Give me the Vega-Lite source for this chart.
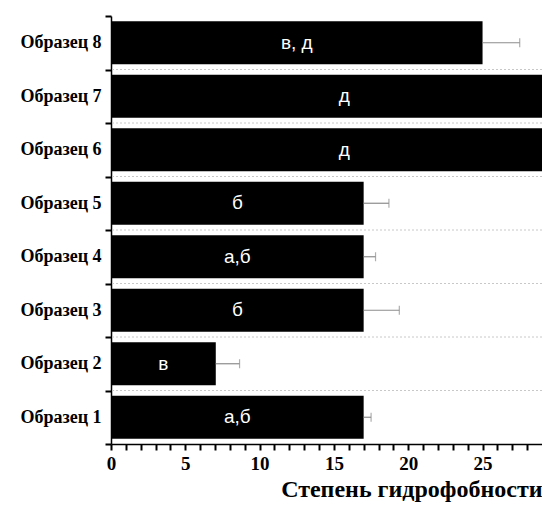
{
  "$schema": "https://vega.github.io/schema/vega-lite/v6.json",
  "width": 431,
  "height": 428,
  "autosize": {"type": "none"},
  "padding": {"left": 111, "top": 16, "right": 0, "bottom": 63},
  "background": "white",
  "config": {"view": {"stroke": null}, "axis": {"ticks": true}},
  "data": {"values": [
    {"s": "Образец 1", "v": 17.0, "hi": 17.5, "lab": "а,б"},
    {"s": "Образец 2", "v": 7.05, "hi": 8.65, "lab": "в"},
    {"s": "Образец 3", "v": 17.0, "hi": 19.4, "lab": "б"},
    {"s": "Образец 4", "v": 17.0, "hi": 17.8, "lab": "а,б"},
    {"s": "Образец 5", "v": 17.0, "hi": 18.7, "lab": "б"},
    {"s": "Образец 6", "v": 31.4, "hi": null, "lab": "д"},
    {"s": "Образец 7", "v": 31.4, "hi": null, "lab": "д"},
    {"s": "Образец 8", "v": 25.0, "hi": 27.5, "lab": "в, д"}
  ]},
  "resolve": {"scale": {"x": "independent"}, "axis": {"x": "independent"}},
  "layer": [
    {
      "transform": [{"filter": "datum.s != 'Образец 8'"}],
      "mark": {"type": "rule", "color": "#c8c8c8", "strokeDash": [2, 2], "strokeWidth": 1},
      "encoding": {
        "y": {"field": "s", "type": "nominal", "sort": "descending", "bandPosition": 0,
              "scale": {"paddingInner": 0, "paddingOuter": 0},
              "axis": {"title": null, "ticks": true, "tickBand": "extent", "tickSize": 6, "tickColor": "black",
                       "domainColor": "black", "domainWidth": 1.5, "tickWidth": 2,
                       "labelFont": "Liberation Serif", "labelFontWeight": "bold", "labelFontSize": 18,
                       "labelColor": "black", "labelPadding": 4, "grid": false}}
      }
    },
    {
      "mark": {"type": "bar", "color": "black", "clip": true, "height": {"band": 0.8}},
      "encoding": {
        "y": {"field": "s", "type": "nominal", "sort": "descending",
              "scale": {"paddingInner": 0, "paddingOuter": 0}},
        "x": {"field": "v", "type": "quantitative", "scale": {"domain": [0, 29], "nice": false},
              "axis": {"orient": "bottom", "ticks": true,
                       "values": [0,1,2,3,4,5,6,7,8,9,10,11,12,13,14,15,16,17,18,19,20,21,22,23,24,25,26,27,28],
                       "labelExpr": "datum.value % 5 === 0 ? datum.label : ''",
                       "labelOverlap": false, "tickSize": 6, "tickWidth": 2,
                       "tickColor": "black", "domainColor": "black", "domainWidth": 1.5, "labelFlush": false,
                       "labelFont": "Liberation Serif", "labelFontWeight": "bold", "labelFontSize": 19,
                       "labelColor": "black", "labelPadding": 4, "grid": false,
                       "title": "Степень гидрофобности", "titleFont": "Liberation Serif",
                       "titleFontWeight": "bold", "titleFontSize": 24, "titleColor": "black",
                       "titleAnchor": "end", "titlePadding": 4}}
      }
    },
    {
      "transform": [{"filter": "datum.hi != null"}],
      "mark": {"type": "rule", "color": "#8c8c8c", "strokeWidth": 1.2},
      "encoding": {
        "y": {"field": "s", "type": "nominal", "sort": "descending",
              "scale": {"paddingInner": 0, "paddingOuter": 0}},
        "x": {"field": "v", "type": "quantitative", "scale": {"domain": [0, 29], "nice": false}, "axis": null},
        "x2": {"field": "hi"}
      }
    },
    {
      "transform": [{"filter": "datum.hi != null"}],
      "mark": {"type": "tick", "orient": "vertical", "color": "#8c8c8c", "size": 9, "thickness": 1.2},
      "encoding": {
        "y": {"field": "s", "type": "nominal", "sort": "descending",
              "scale": {"paddingInner": 0, "paddingOuter": 0}},
        "x": {"field": "hi", "type": "quantitative", "scale": {"domain": [0, 29], "nice": false}, "axis": null}
      }
    },
    {
      "mark": {"type": "text", "color": "white", "font": "Liberation Sans", "fontSize": 19, "align": "center", "baseline": "middle"},
      "encoding": {
        "y": {"field": "s", "type": "nominal", "sort": "descending",
              "scale": {"paddingInner": 0, "paddingOuter": 0}},
        "x": {"field": "v", "type": "quantitative", "scale": {"domain": [0, 58], "nice": false}, "axis": null},
        "text": {"field": "lab"}
      }
    }
  ]
}
